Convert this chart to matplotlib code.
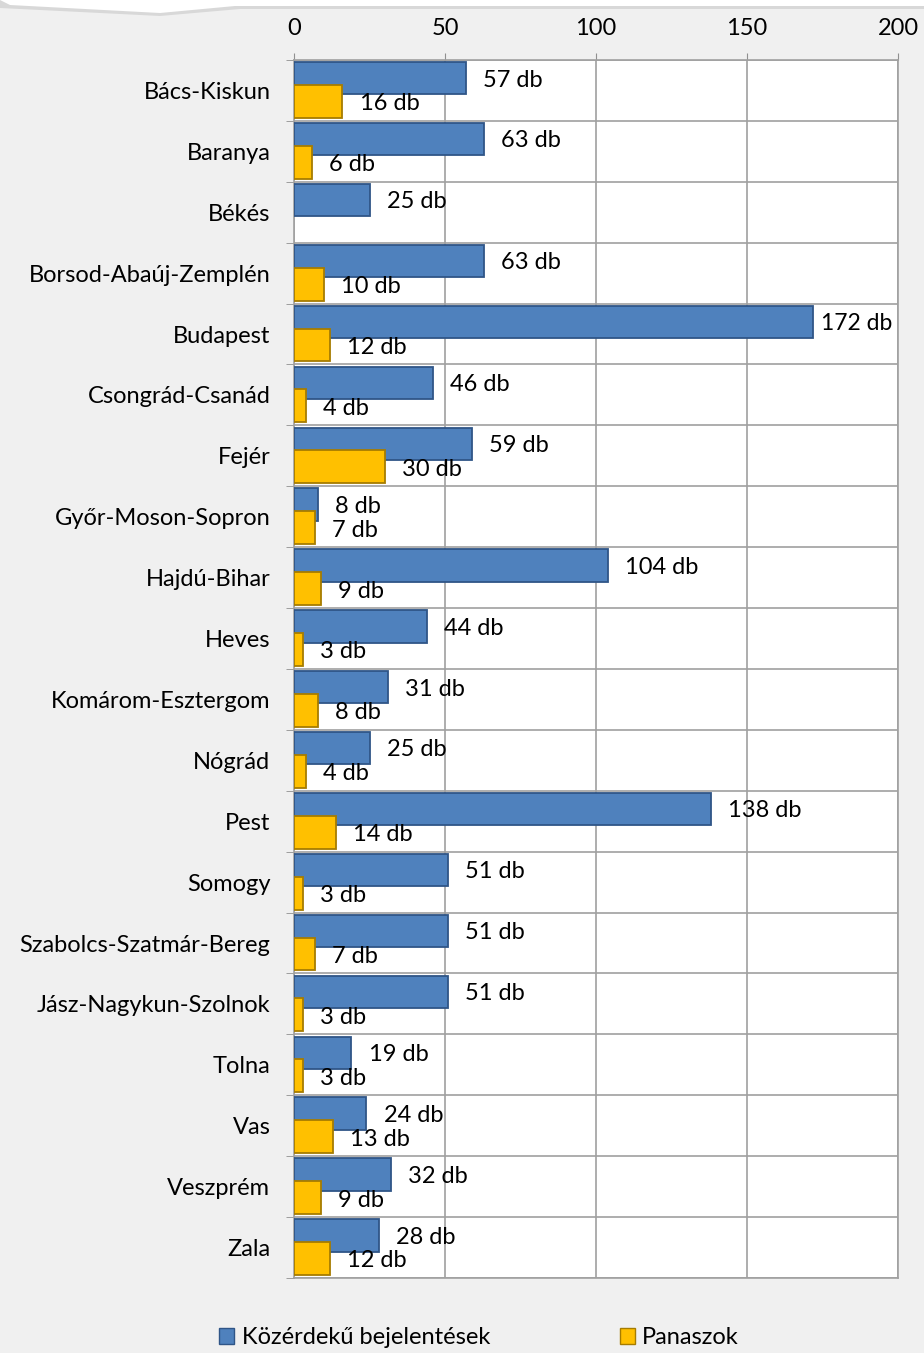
import matplotlib
matplotlib.use("Agg")
import matplotlib.pyplot as plt
from matplotlib.patches import Patch, Polygon
import numpy as np

plt.rcParams['font.family'] = ['Lato', 'DejaVu Sans']

# megyék
megyek = ["Bács-Kiskun", "Baranya", "Békés", "Borsod-Abaúj-Zemplén", "Budapest",
          "Csongrád-Csanád", "Fejér", "Győr-Moson-Sopron", "Hajdú-Bihar", "Heves",
          "Komárom-Esztergom", "Nógrád", "Pest", "Somogy", "Szabolcs-Szatmár-Bereg",
          "Jász-Nagykun-Szolnok", "Tolna", "Vas", "Veszprém", "Zala"]
kozerdeku = [57, 63, 25, 63, 172, 46, 59, 8, 104, 44, 31, 25, 138, 51, 51, 51, 19, 24, 32, 28]
panaszok = [16, 6, 0, 10, 12, 4, 30, 7, 9, 3, 8, 4, 14, 3, 7, 3, 3, 13, 9, 12]
xticks = [0, 50, 100, 150, 200]

W, H = 924, 1353
FS = 17
fig = plt.figure(figsize=(W / 100, H / 100), dpi=100)
fig.patch.set_facecolor('#f0f0f0')

# white shape at the very top
shadow = Polygon([(0, 1), (0, 1 - 8 / H), (160 / W, 1 - 16 / H), (240 / W, 1 - 9 / H), (1, 1 - 9 / H), (1, 1)],
                 closed=True, transform=fig.transFigure, facecolor='#d8d8d8', edgecolor='none')
top = Polygon([(0, 1), (10 / W, 1 - 5 / H), (160 / W, 1 - 13 / H), (235 / W, 1 - 6 / H), (1, 1 - 6 / H), (1, 1)],
              closed=True, transform=fig.transFigure, facecolor='white', edgecolor='none')
fig.patches.extend([shadow, top])

ax = fig.add_axes([294 / W, 1 - 1278 / H, (898 - 294) / W, (1278 - 60) / H])
ax.set_facecolor('white')

y = np.arange(len(megyek))
pan = np.array(panaszok)
nz = pan > 0
ax.barh(y - 0.2, kozerdeku, height=0.53, color='#4f81bd', edgecolor='#2f5587', linewidth=1.3, zorder=3)
ax.barh(y[nz] + 0.18, pan[nz], height=0.54, color='#ffc000', edgecolor='#a67c00', linewidth=1.3, zorder=4)

for i in range(len(megyek)):
    if kozerdeku[i] > 160:
        # keep label inside the chart area (like Excel does)
        ax.text(kozerdeku[i] + 2.6, y[i] - 0.17, f"{kozerdeku[i]} db", va='center', ha='left', fontsize=FS - 0.5, zorder=5)
    else:
        ax.text(kozerdeku[i] + 5.7, y[i] - 0.17, f"{kozerdeku[i]} db", va='center', ha='left', fontsize=FS, zorder=5)
    if panaszok[i] > 0:
        ax.text(panaszok[i] + 5.7, y[i] + 0.22, f"{panaszok[i]} db", va='center', ha='left', fontsize=FS, zorder=5)

ax.set_xlim(0, 200)
ax.set_ylim(len(megyek) - 0.5, -0.5)
ax.set_xticks(xticks)
ax.xaxis.tick_top()
ax.tick_params(axis='x', length=5, color='#909090', labelsize=FS, pad=10)
ax.set_yticks(y)
ax.set_yticklabels(megyek)
ax.tick_params(axis='y', which='major', length=0, labelsize=FS, pad=17)
ax.set_yticks(np.arange(len(megyek) + 1) - 0.5, minor=True)
ax.tick_params(axis='y', which='minor', length=6, color='#909090')
ax.grid(axis='x', color='#a0a0a0', linewidth=1.2, zorder=0)
ax.grid(axis='y', which='minor', color='#a0a0a0', linewidth=1.2, zorder=0)
ax.set_axisbelow(True)
for s in ax.spines.values():
    s.set_color('#a0a0a0')
    s.set_linewidth(1.2)

handles = [Patch(facecolor='#4f81bd', edgecolor='#2f5587', label='Közérdekű bejelentések'),
           Patch(facecolor='#ffc000', edgecolor='#a67c00', label='Panaszok')]
fig.legend(handles=handles, ncol=2, loc='center', bbox_to_anchor=(479 / W, 1 - 1338 / H),
           frameon=False, fontsize=FS, handlelength=0.65, handleheight=0.65, handletextpad=0.3,
           columnspacing=5.5)

fig.savefig('out.png', dpi=100, facecolor=fig.get_facecolor())
